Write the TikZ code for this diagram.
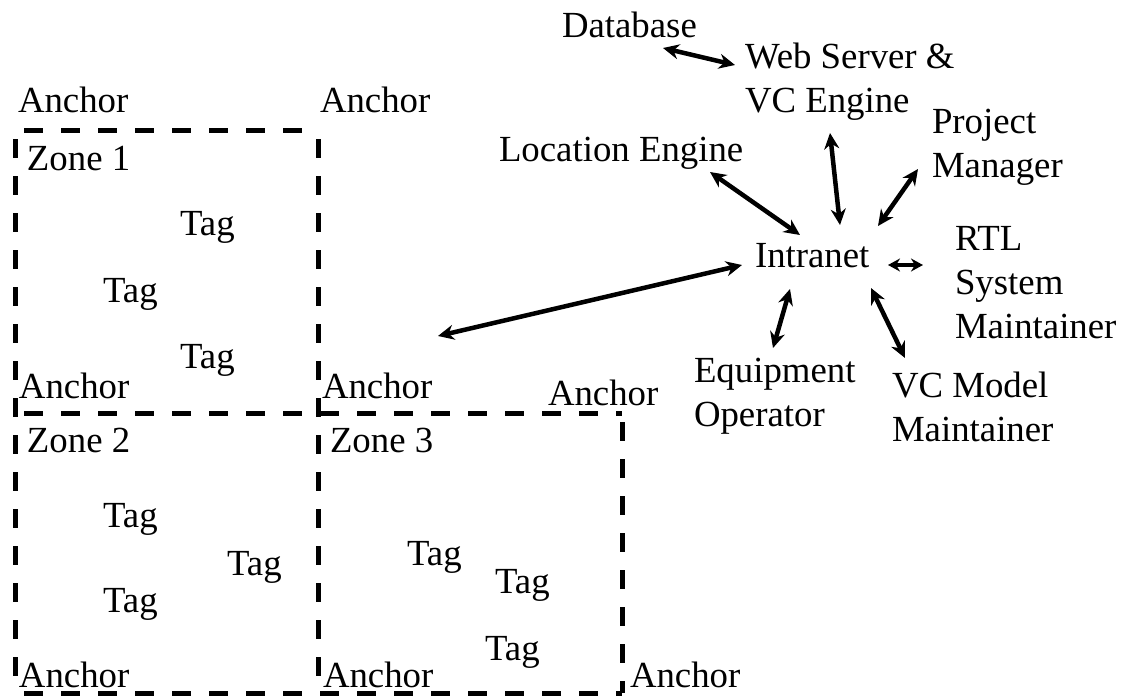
\documentclass[tikz,border=0pt]{standalone}
\usepackage{fontspec}
\setmainfont{Liberation Serif}
\usetikzlibrary{arrows.meta}
\newcommand{\ml}[1]{\begin{tabular}[t]{@{}l@{}}#1\end{tabular}}
\begin{document}
\begin{tikzpicture}[x=1pt,y=-1pt,
  lbl/.style={anchor=base west,inner sep=0pt,outer sep=0pt,font=\fontsize{36.8}{44}\selectfont},
  zoneline/.style={line width=5pt,dash pattern=on 19pt off 18pt,dash phase=-9pt},
  link/.style={line width=4.5pt,{Stealth[length=16pt,width=15pt]}-{Stealth[length=16pt,width=15pt]}},
  shortlink/.style={line width=3.5pt,{Stealth[length=12pt,width=13pt]}-{Stealth[length=12pt,width=13pt]}}]
\useasboundingbox (0,0) rectangle (1122,699);
% zone corners
\coordinate (c11) at (15,130);  \coordinate (c12) at (318,130);
\coordinate (c21) at (15,413);  \coordinate (c22) at (318,413); \coordinate (c23) at (622,413);
\coordinate (c31) at (15,693);  \coordinate (c32) at (318,693); \coordinate (c33) at (622,693);
% zones
\draw[zoneline] (c11) -- (c12);
\draw[zoneline] (c21) -- (c23);
\draw[zoneline] (c31) -- (c33);
\draw[zoneline] (c11) -- (c31);
\draw[zoneline] (c12) -- (c32);
\draw[zoneline] (c23) -- (c33);
% zone labels
\node[lbl] (anc1) at (18,112) {Anchor};
\node[lbl] (anc2) at (320,112) {Anchor};
\node[lbl] (z1) at (27,170) {Zone 1};
\node[lbl] (t1) at (180,235) {Tag};
\node[lbl] (t2) at (103,302) {Tag};
\node[lbl] (t3) at (180,368) {Tag};
\node[lbl] (anc3) at (19,398) {Anchor};
\node[lbl] (anc4) at (322,398) {Anchor};
\node[lbl] (anc5) at (548,405) {Anchor};
\node[lbl] (z2) at (27,452) {Zone 2};
\node[lbl] (z3) at (330,452) {Zone 3};
\node[lbl] (t4) at (103,527) {Tag};
\node[lbl] (t5) at (227,575) {Tag};
\node[lbl] (t6) at (103,612) {Tag};
\node[lbl] (t7) at (407,565) {Tag};
\node[lbl] (t8) at (495,593) {Tag};
\node[lbl] (t9) at (485,660) {Tag};
\node[lbl] (anc6) at (19,687) {Anchor};
\node[lbl] (anc7) at (323,687) {Anchor};
\node[lbl] (anc8) at (630,687) {Anchor};
% system
\node[lbl] (db) at (562,37) {Database};
\node[lbl] (web) at (745,68) {\ml{Web Server \&\\VC Engine}};
\node[lbl] (loc) at (499,161) {Location Engine};
\node[lbl] (pm) at (932,133) {\ml{Project\\Manager}};
\node[lbl] (intra) at (755,267) {Intranet};
\node[lbl] (rtl) at (955,250) {\ml{RTL\\System\\Maintainer}};
\node[lbl] (eq) at (694,382) {\ml{Equipment\\Operator}};
\node[lbl] (vcm) at (892,397) {\ml{VC Model\\Maintainer}};
% connector ends
\coordinate (dbE) at (663,48);   \coordinate (webW) at (735,65);
\coordinate (locE) at (710,172); \coordinate (inLoc) at (800,235);
\coordinate (webS) at (830,133); \coordinate (inWeb) at (840,225);
\coordinate (pmW) at (918,169);  \coordinate (inPm) at (878,226);
\coordinate (inRtl) at (888,265); \coordinate (rtlW) at (923,265);
\coordinate (inEq) at (790,289); \coordinate (eqN) at (773,348);
\coordinate (inVc) at (871,288); \coordinate (vcN) at (905,358);
\coordinate (zonesE) at (438,336); \coordinate (inZones) at (742,265);
% connectors
\draw[link] (dbE) -- (webW);
\draw[link] (locE) -- (inLoc);
\draw[link] (webS) -- (inWeb);
\draw[link] (pmW) -- (inPm);
\draw[shortlink] (inRtl) -- (rtlW);
\draw[link] (inEq) -- (eqN);
\draw[link] (inVc) -- (vcN);
\draw[link] (zonesE) -- (inZones);
\end{tikzpicture}
\end{document}
